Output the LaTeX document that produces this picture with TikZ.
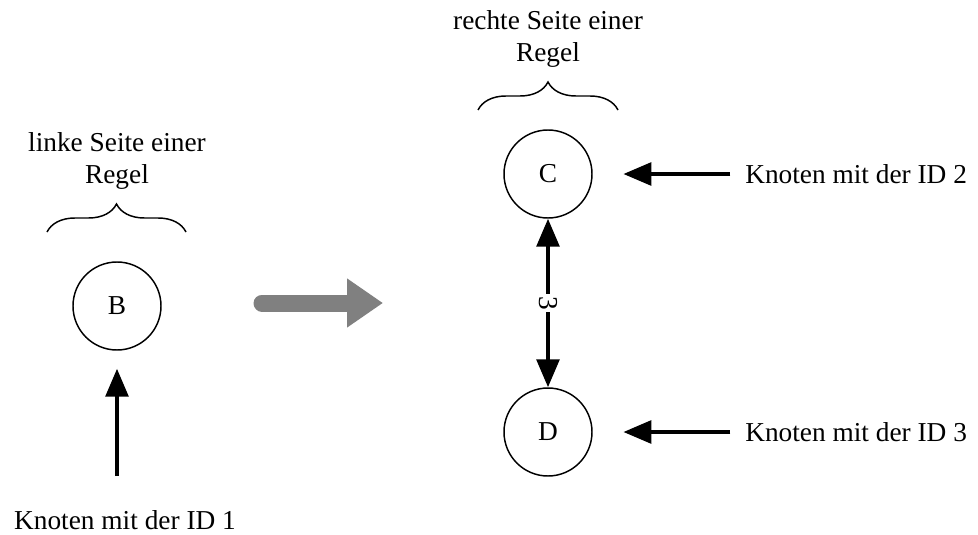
\documentclass[tikz,border=0pt]{standalone}
\usepackage{fontspec}
\setmainfont{Liberation Serif}
\usetikzlibrary{positioning,arrows.meta,decorations.pathreplacing}
\definecolor{rulegray}{RGB}{128,128,128}

\begin{document}
\begin{tikzpicture}[
    x=0.75pt, y=-0.75pt,
    every node/.style={font=\fontsize{20.5}{24}\selectfont},
    vertex/.style={draw, circle, line width=1.1pt, minimum size=66pt, inner sep=0pt},
    note/.style={align=center, inner sep=0pt},
    pointer/.style={line width=3pt, -{Triangle[length=21pt,width=17pt]}},
    rulebrace/.style={decorate, decoration={brace, amplitude=21pt}, line width=1.1pt},
]
\useasboundingbox (0,0) rectangle (978,535);

% Left side of the rule
\node[note] (lefttitle) at (117,161) {linke Seite einer\\Regel};
\draw[rulebrace] (47,232) -- (186,232);
\node[vertex] (b) at (117,306) {B};

\node[note] (id1) at (125,520) {Knoten mit der ID 1};
\coordinate (t1) at (117,476);
\draw[pointer, shorten >=13.5pt] (t1) -- (b);

% Rewrite arrow
\coordinate (gs) at (262,303);
\coordinate (ge) at (383,303);
\draw[rulegray, line width=12.75pt, line cap=round,
      -{Triangle[length=27pt,width=35pt]}] (gs) -- (ge);

% Right side of the rule
\node[note] (righttitle) at (548,39) {rechte Seite einer\\Regel};
\draw[rulebrace] (478,110) -- (618,110);
\node[vertex] (c) at (548,174) {C};
\node[vertex] (d) at (548,432) {D};

\draw[line width=3pt, {Triangle[length=21pt,width=17pt]}-{Triangle[length=21pt,width=17pt]}]
    (c) -- (d) node[midway, fill=white, rotate=-90, inner sep=1.5pt] {3};

% Node IDs on the right
\node[note, anchor=west] (id2) at (745,174) {Knoten mit der ID 2};
\node[note, anchor=west] (id3) at (745,432) {Knoten mit der ID 3};
\draw[pointer, shorten <=11pt, shorten >=23pt] (id2.west) -- (c);
\draw[pointer, shorten <=11pt, shorten >=23pt] (id3.west) -- (d);

\end{tikzpicture}
\end{document}
